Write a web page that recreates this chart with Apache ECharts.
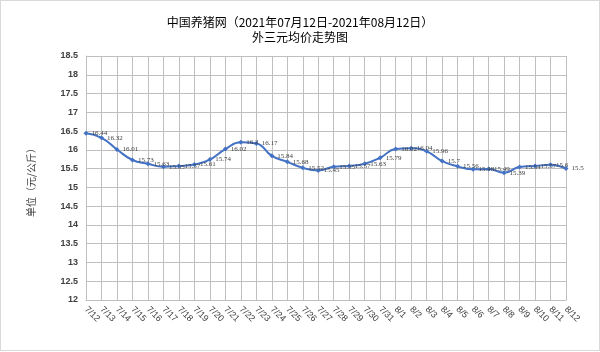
<!DOCTYPE html>
<html>
<head>
<meta charset="utf-8">
<script src="https://cdn.jsdelivr.net/npm/echarts@6/dist/echarts.min.js"></script>
<style>
  html, body { margin: 0; padding: 0; background: #fff; }
  #chart {
    width: 598px;
    height: 349px;
    border: 1px solid #d9d9d9;
  }
</style>
</head>
<body>
<div id="chart"></div>
<script>
const dates = [
  "7/12", "7/13", "7/14", "7/15", "7/16", "7/17", "7/18", "7/19", "7/20", "7/21",
  "7/22", "7/23", "7/24", "7/25", "7/26", "7/27", "7/28", "7/29", "7/30", "7/31",
  "8/1", "8/2", "8/3", "8/4", "8/5", "8/6", "8/7", "8/8", "8/9", "8/10", "8/11", "8/12",
];
const prices = [
  16.44, 16.32, 16.01, 15.73, 15.63, 15.55, 15.57, 15.61, 15.74, 16.02,
  16.2, 16.17, 15.84, 15.68, 15.52, 15.45, 15.55, 15.57, 15.63, 15.79,
  16.02, 16.04, 15.96, 15.7, 15.56, 15.48, 15.49, 15.39, 15.54, 15.57, 15.6, 15.5,
];
const titleLine1 = "中国养猪网（2021年07月12日-2021年08月12日）";
const titleLine2 = "外三元均价走势图";
const yName = "单位（元/公斤）";

const chart = echarts.init(document.getElementById("chart"));

chart.setOption({
  animation: false,
  title: {
    text: titleLine1 + "\n" + titleLine2,
    left: "center",
    top: 9,
    textStyle: {
      fontFamily: "Noto Sans CJK SC",
      fontSize: 12,
      fontWeight: "normal",
      color: "#000",
      lineHeight: 15,
    },
  },
  graphic: [
    {
      type: "text",
      left: 25,
      top: 142,
      rotation: Math.PI / 2,
      style: {
        text: yName,
        fontFamily: "Noto Sans CJK SC",
        fontSize: 10,
        fill: "#404040",
      },
    },
  ],
  grid: {
    left: 85,
    right: 33,
    top: 55,
    bottom: 50,
  },
  xAxis: {
    type: "category",
    data: dates,
    boundaryGap: false,
    axisLine: { lineStyle: { color: "#bfbfbf" } },
    axisTick: { show: false },
    splitLine: { show: true, lineStyle: { color: "#bfbfbf" } },
    axisLabel: {
      interval: 0,
      rotate: -45,
      fontFamily: "Liberation Sans",
      fontSize: 9,
      color: "#404040",
      margin: 8,
    },
  },
  yAxis: {
    type: "value",
    min: 12,
    max: 18.5,
    interval: 0.5,
    axisLine: { show: true, lineStyle: { color: "#bfbfbf" } },
    axisTick: { show: false },
    splitLine: { lineStyle: { color: "#bfbfbf" } },
    axisLabel: {
      fontFamily: "Liberation Sans",
      fontSize: 9,
      fontWeight: "bold",
      color: "#404040",
      margin: 8,
    },
  },
  series: [
    {
      type: "line",
      data: prices,
      smooth: true,
      symbol: "diamond",
      symbolSize: 5,
      lineStyle: { color: "#4472c4", width: 2 },
      itemStyle: { color: "#4472c4" },
      label: {
        show: true,
        position: "right",
        distance: 3,
        fontFamily: "Liberation Serif",
        fontSize: 7,
        color: "#404040",
      },
    },
  ],
});
</script>
</body>
</html>
